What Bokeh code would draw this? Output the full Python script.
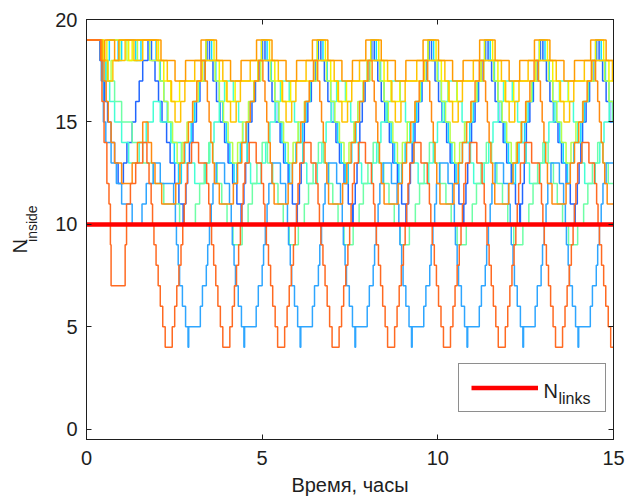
from bokeh.plotting import figure
from bokeh.models import (Range1d, FixedTicker, LinearAxis, Label, Legend,
                          LegendItem)
from bokeh.embed import file_html
from bokeh.resources import INLINE

# Number of nodes inside the area over time (hours), one step series per run.
# Each entry: (time in hours, count from that moment on).
ORANGE_RED = [
    (0, 19), (0.40, 18), (0.44, 16), (0.50, 14), (0.58, 12), (0.64, 11), (0.68, 9), (0.70, 7),
    (1.10, 9), (1.14, 11), (1.25, 12), (1.40, 13), (1.60, 14), (1.72, 13),
    (1.78, 12), (1.84, 11), (1.88, 10), (1.92, 9), (1.98, 8), (2.04, 7), (2.10, 6), (2.17, 5), (2.24, 4),
    (2.44, 5), (2.51, 6), (2.57, 7), (2.63, 8), (2.69, 9), (2.74, 10), (2.78, 11), (2.82, 12), (2.87, 13),
    (2.99, 14), (3.19, 13),
    (3.42, 12), (3.48, 11), (3.52, 10), (3.56, 9), (3.62, 8), (3.68, 7), (3.74, 6), (3.81, 5), (3.88, 4),
    (4.08, 5), (4.15, 6), (4.21, 7), (4.27, 8), (4.33, 9), (4.38, 10), (4.42, 11), (4.46, 12), (4.51, 13),
    (4.63, 14), (4.83, 13),
    (4.98, 12), (5.04, 11), (5.08, 10), (5.12, 9), (5.18, 8), (5.24, 7), (5.30, 6), (5.37, 5), (5.44, 4),
    (5.64, 5), (5.71, 6), (5.77, 7), (5.83, 8), (5.89, 9), (5.94, 10), (5.98, 11), (6.02, 12), (6.07, 13),
    (6.19, 14), (6.39, 13),
    (6.53, 12), (6.59, 11), (6.63, 10), (6.67, 9), (6.73, 8), (6.79, 7), (6.85, 6), (6.92, 5), (6.99, 4),
    (7.19, 5), (7.26, 6), (7.32, 7), (7.38, 8), (7.44, 9), (7.49, 10), (7.53, 11), (7.57, 12), (7.62, 13),
    (7.74, 14), (7.94, 13),
    (8.11, 12), (8.17, 11), (8.21, 10), (8.25, 9), (8.31, 8), (8.37, 7), (8.43, 6), (8.50, 5), (8.57, 4),
    (8.77, 5), (8.84, 6), (8.90, 7), (8.96, 8), (9.02, 9), (9.07, 10), (9.11, 11), (9.15, 12), (9.20, 13),
    (9.32, 14), (9.52, 13),
    (9.70, 12), (9.76, 11), (9.80, 10), (9.84, 9), (9.90, 8), (9.96, 7), (10.02, 6), (10.09, 5), (10.16, 4),
    (10.36, 5), (10.43, 6), (10.49, 7), (10.55, 8), (10.61, 9), (10.66, 10), (10.70, 11), (10.74, 12),
    (10.79, 13), (10.91, 14), (11.11, 13),
    (11.26, 12), (11.32, 11), (11.36, 10), (11.40, 9), (11.46, 8), (11.52, 7), (11.58, 6), (11.65, 5),
    (11.72, 4), (11.92, 5), (11.99, 6), (12.05, 7), (12.11, 8), (12.17, 9), (12.22, 10), (12.26, 11),
    (12.30, 12), (12.35, 13), (12.47, 14), (12.67, 13),
    (12.89, 12), (12.95, 11), (12.99, 10), (13.03, 9), (13.09, 8), (13.15, 7), (13.21, 6), (13.28, 5),
    (13.35, 4), (13.55, 5), (13.62, 6), (13.68, 7), (13.74, 8), (13.80, 9), (13.85, 10), (13.89, 11),
    (13.93, 12), (13.98, 13), (14.10, 14), (14.30, 13),
    (14.46, 12), (14.52, 11), (14.56, 10), (14.60, 9), (14.66, 8), (14.72, 7), (14.78, 6), (14.85, 5),
    (14.92, 4), (15.00, 4),
]

SKY_BLUE = [
    (0, 19), (0.42, 17), (0.48, 15), (0.55, 14), (0.70, 13), (0.85, 12), (1.00, 11), (1.30, 10),
    (1.58, 11), (1.70, 12), (1.90, 13), (2.10, 12),
    (2.48, 11), (2.53, 10), (2.56, 9), (2.61, 8), (2.65, 7), (2.73, 6), (2.82, 5), (2.89, 4), (2.91, 5),
    (3.24, 6), (3.30, 7), (3.41, 8), (3.45, 9), (3.50, 10), (3.55, 11), (3.60, 12), (3.69, 13), (3.93, 12),
    (4.07, 11), (4.12, 10), (4.15, 9), (4.20, 8), (4.24, 7), (4.32, 6), (4.41, 5), (4.48, 4), (4.50, 5),
    (4.83, 6), (4.89, 7), (5.00, 8), (5.04, 9), (5.09, 10), (5.14, 11), (5.19, 12), (5.28, 13), (5.52, 12),
    (5.67, 11), (5.72, 10), (5.75, 9), (5.80, 8), (5.84, 7), (5.92, 6), (6.01, 5), (6.08, 4), (6.10, 5),
    (6.43, 6), (6.49, 7), (6.60, 8), (6.64, 9), (6.69, 10), (6.74, 11), (6.79, 12), (6.88, 13), (7.12, 12),
    (7.23, 11), (7.28, 10), (7.31, 9), (7.36, 8), (7.40, 7), (7.48, 6), (7.57, 5), (7.64, 4), (7.66, 5),
    (7.99, 6), (8.05, 7), (8.16, 8), (8.20, 9), (8.25, 10), (8.30, 11), (8.35, 12), (8.44, 13), (8.68, 12),
    (8.84, 11), (8.89, 10), (8.92, 9), (8.97, 8), (9.01, 7), (9.09, 6), (9.18, 5), (9.25, 4), (9.27, 5),
    (9.60, 6), (9.66, 7), (9.77, 8), (9.81, 9), (9.86, 10), (9.91, 11), (9.96, 12), (10.05, 13), (10.29, 12),
    (10.42, 11), (10.47, 10), (10.50, 9), (10.55, 8), (10.59, 7), (10.67, 6), (10.76, 5), (10.83, 4),
    (10.85, 5), (11.18, 6), (11.24, 7), (11.35, 8), (11.39, 9), (11.44, 10), (11.49, 11), (11.54, 12),
    (11.63, 13), (11.87, 12),
    (12.01, 11), (12.06, 10), (12.09, 9), (12.14, 8), (12.18, 7), (12.26, 6), (12.35, 5), (12.42, 4),
    (12.44, 5), (12.77, 6), (12.83, 7), (12.94, 8), (12.98, 9), (13.03, 10), (13.08, 11), (13.13, 12),
    (13.22, 13), (13.46, 12),
    (13.58, 11), (13.63, 10), (13.66, 9), (13.71, 8), (13.75, 7), (13.83, 6), (13.92, 5), (13.99, 4),
    (14.01, 5), (14.34, 6), (14.40, 7), (14.51, 8), (14.55, 9), (14.60, 10), (14.65, 11), (14.70, 12),
    (14.79, 13), (15.00, 13),
]

SEA_GREEN = [
    (0, 19), (0.45, 18), (0.60, 17), (0.80, 16), (1.00, 15), (1.30, 14), (1.60, 13), (1.90, 12),
    (2.20, 11), (2.65, 10), (3.10, 11), (3.22, 12), (3.35, 13), (3.48, 14), (3.60, 13), (3.72, 12),
    (3.85, 11), (4.00, 10), (4.17, 9), (4.43, 10), (4.60, 11), (4.72, 12), (4.85, 13), (5.00, 14),
    (5.15, 13), (5.30, 12),
    (5.45, 11), (5.60, 10), (5.77, 9), (6.03, 10), (6.20, 11), (6.32, 12), (6.45, 13), (6.60, 14),
    (6.75, 13), (6.90, 12),
    (7.01, 11), (7.16, 10), (7.33, 9), (7.59, 10), (7.76, 11), (7.88, 12), (8.01, 13), (8.16, 14),
    (8.31, 13), (8.46, 12),
    (8.61, 11), (8.76, 10), (8.93, 9), (9.19, 10), (9.36, 11), (9.48, 12), (9.61, 13), (9.76, 14),
    (9.91, 13), (10.06, 12),
    (10.23, 11), (10.38, 10), (10.55, 9), (10.81, 10), (10.98, 11), (11.10, 12), (11.23, 13), (11.38, 14),
    (11.53, 13), (11.68, 12),
    (11.84, 11), (11.99, 10), (12.16, 9), (12.42, 10), (12.59, 11), (12.71, 12), (12.84, 13), (12.99, 14),
    (13.14, 13), (13.29, 12),
    (13.40, 11), (13.55, 10), (13.72, 9), (13.98, 10), (14.15, 11), (14.27, 12), (14.40, 13), (14.55, 14),
    (14.70, 13), (14.85, 12), (15.00, 12),
]

ROYAL_BLUE = [
    (0, 19), (0.38, 18), (0.45, 17), (0.52, 16), (0.60, 15), (0.70, 14), (0.80, 13), (0.90, 12),
    (1.05, 13), (1.15, 14), (1.30, 15), (1.40, 16), (1.50, 17), (1.60, 18), (1.75, 19), (1.85, 18),
    (1.95, 17), (2.05, 16), (2.15, 15), (2.28, 14), (2.38, 13), (2.51, 12), (2.63, 11), (2.75, 10),
    (2.77, 11), (2.83, 12), (2.88, 13), (2.93, 14),
    (3.03, 15), (3.13, 16), (3.23, 17), (3.36, 18), (3.43, 19), (3.50, 18), (3.60, 17), (3.70, 16),
    (3.80, 15), (3.93, 14), (4.03, 13), (4.16, 12), (4.28, 11), (4.40, 10), (4.42, 11), (4.48, 12),
    (4.53, 13), (4.58, 14),
    (4.61, 15), (4.71, 16), (4.81, 17), (4.94, 18), (5.01, 19), (5.08, 18), (5.18, 17), (5.28, 16),
    (5.38, 15), (5.51, 14), (5.61, 13), (5.74, 12), (5.86, 11), (5.98, 10), (6.00, 11), (6.06, 12),
    (6.11, 13), (6.16, 14),
    (6.20, 15), (6.30, 16), (6.40, 17), (6.53, 18), (6.60, 19), (6.67, 18), (6.77, 17), (6.87, 16),
    (6.97, 15), (7.10, 14), (7.20, 13), (7.33, 12), (7.45, 11), (7.57, 10), (7.59, 11), (7.65, 12),
    (7.70, 13), (7.75, 14),
    (7.78, 15), (7.85, 16), (7.93, 17), (8.05, 18), (8.12, 19), (8.19, 18), (8.29, 17), (8.39, 16),
    (8.49, 15), (8.62, 14), (8.72, 13), (8.85, 12), (8.97, 11), (9.09, 10), (9.11, 11), (9.17, 12),
    (9.22, 13), (9.27, 14),
    (9.35, 15), (9.45, 16), (9.55, 17), (9.68, 18), (9.75, 19), (9.82, 18), (9.92, 17), (10.02, 16),
    (10.12, 15), (10.25, 14), (10.35, 13), (10.48, 12), (10.60, 11), (10.72, 10), (10.74, 11), (10.80, 12),
    (10.85, 13), (10.90, 14),
    (10.96, 15), (11.06, 16), (11.16, 17), (11.29, 18), (11.36, 19), (11.43, 18), (11.53, 17), (11.63, 16),
    (11.73, 15), (11.86, 14), (11.96, 13), (12.09, 12), (12.21, 11), (12.33, 10), (12.35, 11), (12.41, 12),
    (12.46, 13), (12.51, 14),
    (12.52, 15), (12.62, 16), (12.72, 17), (12.85, 18), (12.92, 19), (12.99, 18), (13.09, 17), (13.19, 16),
    (13.29, 15), (13.42, 14), (13.52, 13), (13.65, 12), (13.77, 11), (13.89, 10), (13.91, 11), (13.97, 12),
    (14.02, 13), (14.07, 14),
    (14.12, 15), (14.22, 16), (14.32, 17), (14.45, 18), (14.52, 19), (14.59, 18), (14.69, 17), (14.79, 16),
    (14.89, 15), (15.00, 15),
]

CYAN = [
    (0, 19), (0.40, 18), (0.47, 17), (0.55, 18), (0.65, 19), (0.90, 18), (1.00, 19), (1.40, 18),
    (1.55, 19), (1.98, 18), (2.10, 17), (2.20, 16), (2.30, 15), (2.40, 14), (2.50, 13), (2.62, 12),
    (2.70, 13), (2.80, 14),
    (2.98, 15), (3.08, 16), (3.20, 17), (3.30, 18), (3.40, 19), (3.56, 18), (3.68, 17), (3.78, 16),
    (3.88, 15), (3.98, 14), (4.08, 13), (4.20, 12), (4.28, 13), (4.38, 14),
    (4.56, 15), (4.66, 16), (4.78, 17), (4.88, 18), (4.98, 19), (5.14, 18), (5.26, 17), (5.36, 16),
    (5.46, 15), (5.56, 14), (5.66, 13), (5.78, 12), (5.86, 13), (5.96, 14),
    (6.15, 15), (6.25, 16), (6.37, 17), (6.47, 18), (6.57, 19), (6.73, 18), (6.85, 17), (6.95, 16),
    (7.05, 15), (7.15, 14), (7.25, 13), (7.37, 12), (7.45, 13), (7.55, 14),
    (7.67, 15), (7.77, 16), (7.89, 17), (7.99, 18), (8.09, 19), (8.25, 18), (8.37, 17), (8.47, 16),
    (8.57, 15), (8.67, 14), (8.77, 13), (8.89, 12), (8.97, 13), (9.07, 14),
    (9.30, 15), (9.40, 16), (9.52, 17), (9.62, 18), (9.72, 19), (9.88, 18), (10.00, 17), (10.10, 16),
    (10.20, 15), (10.30, 14), (10.40, 13), (10.52, 12), (10.60, 13), (10.70, 14),
    (10.91, 15), (11.01, 16), (11.13, 17), (11.23, 18), (11.33, 19), (11.49, 18), (11.61, 17), (11.71, 16),
    (11.81, 15), (11.91, 14), (12.01, 13), (12.13, 12), (12.21, 13), (12.31, 14),
    (12.47, 15), (12.57, 16), (12.69, 17), (12.79, 18), (12.89, 19), (13.05, 18), (13.17, 17), (13.27, 16),
    (13.37, 15), (13.47, 14), (13.57, 13), (13.69, 12), (13.77, 13), (13.87, 14),
    (14.07, 15), (14.17, 16), (14.29, 17), (14.39, 18), (14.49, 19), (14.65, 18), (14.77, 17), (14.87, 16),
    (14.97, 15), (15.00, 15),
]

AQUA = [
    (0, 19), (0.48, 18), (0.56, 17), (0.66, 16), (0.80, 15), (1.00, 14), (1.20, 13), (1.50, 14),
    (1.70, 15), (1.90, 16), (2.10, 15), (2.40, 14), (2.70, 13),
    (3.08, 12), (3.38, 13), (3.51, 14), (3.63, 15), (3.78, 16), (3.93, 17), (4.18, 16), (4.33, 15),
    (4.45, 14), (4.57, 13),
    (4.67, 12), (4.97, 13), (5.10, 14), (5.22, 15), (5.37, 16), (5.52, 17), (5.77, 16), (5.92, 15),
    (6.04, 14), (6.16, 13),
    (6.27, 12), (6.57, 13), (6.70, 14), (6.82, 15), (6.97, 16), (7.12, 17), (7.37, 16), (7.52, 15),
    (7.64, 14), (7.76, 13),
    (7.83, 12), (8.13, 13), (8.26, 14), (8.38, 15), (8.53, 16), (8.68, 17), (8.93, 16), (9.08, 15),
    (9.20, 14), (9.32, 13),
    (9.44, 12), (9.74, 13), (9.87, 14), (9.99, 15), (10.14, 16), (10.29, 17), (10.54, 16), (10.69, 15),
    (10.81, 14), (10.93, 13),
    (11.02, 12), (11.32, 13), (11.45, 14), (11.57, 15), (11.72, 16), (11.87, 17), (12.12, 16), (12.27, 15),
    (12.39, 14), (12.51, 13),
    (12.61, 12), (12.91, 13), (13.04, 14), (13.16, 15), (13.31, 16), (13.46, 17), (13.71, 16), (13.86, 15),
    (13.98, 14), (14.10, 13),
    (14.18, 12), (14.48, 13), (14.61, 14), (14.73, 15), (14.88, 16), (15.00, 16),
]

LIME = [
    (0, 19), (0.48, 18), (0.62, 17), (0.70, 18), (0.95, 19), (1.15, 18), (1.45, 19), (1.80, 18),
    (2.08, 17), (2.20, 16), (2.32, 15), (2.45, 14), (2.58, 13), (2.72, 14), (2.86, 15),
    (3.03, 16), (3.18, 17), (3.38, 18), (3.66, 17), (3.78, 16), (3.90, 15), (4.03, 14), (4.16, 13),
    (4.30, 14), (4.44, 15),
    (4.61, 16), (4.76, 17), (4.96, 18), (5.24, 17), (5.36, 16), (5.48, 15), (5.61, 14), (5.74, 13),
    (5.88, 14), (6.02, 15),
    (6.20, 16), (6.35, 17), (6.55, 18), (6.83, 17), (6.95, 16), (7.07, 15), (7.20, 14), (7.33, 13),
    (7.47, 14), (7.61, 15),
    (7.72, 16), (7.87, 17), (8.07, 18), (8.35, 17), (8.47, 16), (8.59, 15), (8.72, 14), (8.85, 13),
    (8.99, 14), (9.13, 15),
    (9.35, 16), (9.50, 17), (9.70, 18), (9.98, 17), (10.10, 16), (10.22, 15), (10.35, 14), (10.48, 13),
    (10.62, 14), (10.76, 15),
    (10.96, 16), (11.11, 17), (11.31, 18), (11.59, 17), (11.71, 16), (11.83, 15), (11.96, 14), (12.09, 13),
    (12.23, 14), (12.37, 15),
    (12.52, 16), (12.67, 17), (12.87, 18), (13.15, 17), (13.27, 16), (13.39, 15), (13.52, 14), (13.65, 13),
    (13.79, 14), (13.93, 15),
    (14.12, 16), (14.27, 17), (14.47, 18), (14.75, 17), (14.87, 16), (14.99, 15), (15.00, 15),
]

YELLOW = [
    (0, 19), (0.50, 18), (0.58, 19), (1.20, 18), (1.30, 19), (2.05, 18), (2.20, 17), (2.40, 16),
    (2.65, 17),
    (3.30, 18), (3.40, 19), (3.63, 18), (3.78, 17), (3.98, 16), (4.23, 17),
    (4.88, 18), (4.98, 19), (5.21, 18), (5.36, 17), (5.56, 16), (5.81, 17),
    (6.47, 18), (6.57, 19), (6.80, 18), (6.95, 17), (7.15, 16), (7.40, 17),
    (7.99, 18), (8.09, 19), (8.32, 18), (8.47, 17), (8.67, 16), (8.92, 17),
    (9.62, 18), (9.72, 19), (9.95, 18), (10.10, 17), (10.30, 16), (10.55, 17),
    (11.23, 18), (11.33, 19), (11.56, 18), (11.71, 17), (11.91, 16), (12.16, 17),
    (12.79, 18), (12.89, 19), (13.12, 18), (13.27, 17), (13.47, 16), (13.72, 17),
    (14.39, 18), (14.49, 19), (14.72, 18), (14.87, 17), (15.00, 17),
]

GOLD = [
    (0, 19), (0.46, 18), (0.60, 17), (0.75, 18), (1.10, 19), (1.35, 18), (1.60, 19), (2.00, 18),
    (2.30, 17), (2.42, 16), (2.52, 15), (2.68, 16), (2.80, 17),
    (3.08, 18), (3.88, 17), (4.00, 16), (4.10, 15), (4.26, 16), (4.38, 17),
    (4.66, 18), (5.46, 17), (5.58, 16), (5.68, 15), (5.84, 16), (5.96, 17),
    (6.25, 18), (7.05, 17), (7.17, 16), (7.27, 15), (7.43, 16), (7.55, 17),
    (7.77, 18), (8.57, 17), (8.69, 16), (8.79, 15), (8.95, 16), (9.07, 17),
    (9.40, 18), (10.20, 17), (10.32, 16), (10.42, 15), (10.58, 16), (10.70, 17),
    (11.01, 18), (11.81, 17), (11.93, 16), (12.03, 15), (12.19, 16), (12.31, 17),
    (12.57, 18), (13.37, 17), (13.49, 16), (13.59, 15), (13.75, 16), (13.87, 17),
    (14.17, 18), (14.97, 17), (15.00, 17),
]

DARK_ORANGE = [
    (0, 19), (0.42, 18), (0.50, 17), (0.56, 16), (0.62, 15), (0.70, 14), (0.80, 13), (1.00, 12),
    (1.30, 13), (1.45, 14), (1.60, 15), (1.75, 14), (1.85, 13), (1.95, 12),
    (2.14, 11), (2.54, 12), (2.66, 13), (2.78, 14), (2.90, 15), (3.02, 16), (3.14, 17), (3.26, 18),
    (3.38, 17), (3.44, 16), (3.49, 15), (3.54, 14), (3.59, 13), (3.64, 12),
    (3.78, 11), (4.18, 12), (4.30, 13), (4.42, 14), (4.54, 15), (4.66, 16), (4.78, 17), (4.90, 18),
    (5.02, 17), (5.08, 16), (5.13, 15), (5.18, 14), (5.23, 13), (5.28, 12),
    (5.34, 11), (5.74, 12), (5.86, 13), (5.98, 14), (6.10, 15), (6.22, 16), (6.34, 17), (6.46, 18),
    (6.58, 17), (6.64, 16), (6.69, 15), (6.74, 14), (6.79, 13), (6.84, 12),
    (6.89, 11), (7.29, 12), (7.41, 13), (7.53, 14), (7.65, 15), (7.77, 16), (7.89, 17), (8.01, 18),
    (8.13, 17), (8.19, 16), (8.24, 15), (8.29, 14), (8.34, 13), (8.39, 12),
    (8.47, 11), (8.87, 12), (8.99, 13), (9.11, 14), (9.23, 15), (9.35, 16), (9.47, 17), (9.59, 18),
    (9.71, 17), (9.77, 16), (9.82, 15), (9.87, 14), (9.92, 13), (9.97, 12),
    (10.06, 11), (10.46, 12), (10.58, 13), (10.70, 14), (10.82, 15), (10.94, 16), (11.06, 17), (11.18, 18),
    (11.30, 17), (11.36, 16), (11.41, 15), (11.46, 14), (11.51, 13), (11.56, 12),
    (11.62, 11), (12.02, 12), (12.14, 13), (12.26, 14), (12.38, 15), (12.50, 16), (12.62, 17), (12.74, 18),
    (12.86, 17), (12.92, 16), (12.97, 15), (13.02, 14), (13.07, 13), (13.12, 12),
    (13.25, 11), (13.65, 12), (13.77, 13), (13.89, 14), (14.01, 15), (14.13, 16), (14.25, 17), (14.37, 18),
    (14.49, 17), (14.55, 16), (14.60, 15), (14.65, 14), (14.70, 13), (14.75, 12), (14.82, 11),
    (15.00, 11),
]

ORANGE = [
    (0, 19), (0.44, 18), (0.52, 19), (0.80, 18), (0.92, 19), (2.12, 18), (2.52, 17), (2.82, 18),
    (3.26, 19), (3.70, 18), (4.10, 17), (4.40, 18),
    (4.84, 19), (5.28, 18), (5.68, 17), (5.98, 18),
    (6.43, 19), (6.87, 18), (7.27, 17), (7.57, 18),
    (7.95, 19), (8.39, 18), (8.79, 17), (9.09, 18),
    (9.58, 19), (10.02, 18), (10.42, 17), (10.72, 18),
    (11.19, 19), (11.63, 18), (12.03, 17), (12.33, 18),
    (12.75, 19), (13.19, 18), (13.59, 17), (13.89, 18),
    (14.35, 19), (14.79, 18), (15.00, 18),
]

# Drawing order (first is at the back) and line colours
SERIES = [
    (ROYAL_BLUE, "#2266ff"),
    (CYAN, "#12dcff"),
    (AQUA, "#44ffd4"),
    (SEA_GREEN, "#6effa6"),
    (LIME, "#b6ff4c"),
    (SKY_BLUE, "#2ea6ff"),
    (YELLOW, "#f4f400"),
    (GOLD, "#ffc400"),
    (DARK_ORANGE, "#ff8a10"),
    (ORANGE, "#ff9c00"),
    (ORANGE_RED, "#ff6a22"),
]

N_LINKS = 10
T_SPAN = (0, 15)

FONT = "Liberation Sans"
INK = "#1e1e1e"
NBSP = "\u00a0"

p = figure(width=626, height=499, x_range=Range1d(0, 15), y_range=Range1d(-0.5, 20),
           output_backend="svg", toolbar_location=None,
           min_border_left=86, min_border_right=13, min_border_top=19, min_border_bottom=60)
p.grid.visible = False
p.outline_line_color = INK
p.outline_line_width = 1
p.background_fill_color = "white"
p.border_fill_color = "white"

for data, colour in SERIES:
    ts = [t for t, _ in data]
    ns = [n for _, n in data]
    p.step(ts, ns, mode="after", line_color=colour, line_width=1.5)

red = p.line(list(T_SPAN), [N_LINKS, N_LINKS], line_color="#ff0000", line_width=4.5)

x_ticks = FixedTicker(ticks=[0, 5, 10, 15])
y_ticks = FixedTicker(ticks=[0, 5, 10, 15, 20])


def style_axis(ax, show_labels):
    ax.axis_line_color = INK
    ax.major_tick_line_color = INK
    ax.major_tick_in = 5
    ax.major_tick_out = 0
    ax.minor_tick_line_color = None
    ax.major_label_text_font = FONT
    ax.major_label_text_color = INK
    ax.axis_label_text_font = FONT
    ax.axis_label_text_font_style = "normal"
    ax.axis_label_text_color = INK
    if show_labels:
        ax.major_label_text_font_size = "20px"
    else:
        # tick marks only: labels are not painted and take (almost) no room
        ax.major_label_text_font_size = "1px"
        ax.major_label_text_color = None
        ax.major_label_standoff = 0


p.xaxis.ticker = x_ticks
p.yaxis.ticker = y_ticks
style_axis(p.xaxis[0], True)
style_axis(p.yaxis[0], True)
p.xaxis.major_label_standoff = 11
p.yaxis.major_label_standoff = 9
p.xaxis.axis_label = "Время, часы"
p.xaxis.axis_label_text_font_size = "20px"
p.xaxis.axis_label_standoff = 6

# y-axis title N_inside: the subscript is the left axis' own title,
# the "N" sits on an extra, bare axis just outside it
p.yaxis.axis_label = NBSP * 3 + "inside"
p.yaxis.axis_label_text_font_size = "14px"
p.yaxis.axis_label_standoff = 12

n_axis = LinearAxis(ticker=FixedTicker(ticks=[]))
style_axis(n_axis, False)
n_axis.axis_line_color = None
n_axis.major_tick_line_color = None
n_axis.axis_label = "N" + NBSP * 6
n_axis.axis_label_text_font_size = "20px"
n_axis.axis_label_standoff = -9
p.add_layout(n_axis, "left")

top_axis = LinearAxis(ticker=x_ticks)
style_axis(top_axis, False)
p.add_layout(top_axis, "above")
right_axis = LinearAxis(ticker=y_ticks)
style_axis(right_axis, False)
p.add_layout(right_axis, "right")

legend = Legend(items=[LegendItem(label=" ", renderers=[red])], location=(372, 27),
                glyph_width=67, glyph_height=23, label_width=49, label_height=23,
                label_standoff=6, padding=12, margin=0, spacing=0,
                border_line_color=INK, border_line_width=1,
                background_fill_color="white", background_fill_alpha=0)
p.add_layout(legend)


def add_text(x, y, text, size):
    p.add_layout(Label(x=x, y=y, x_units="screen", y_units="screen", text=text,
                       text_font=FONT, text_font_size=size, text_color=INK,
                       text_baseline="alphabetic", level="overlay"))


# legend entry text: N with subscript "links"
add_text(457, 49, "N", "20px")
add_text(472, 41, "links", "16px")

open("out.html", "w").write(file_html(p, INLINE))
